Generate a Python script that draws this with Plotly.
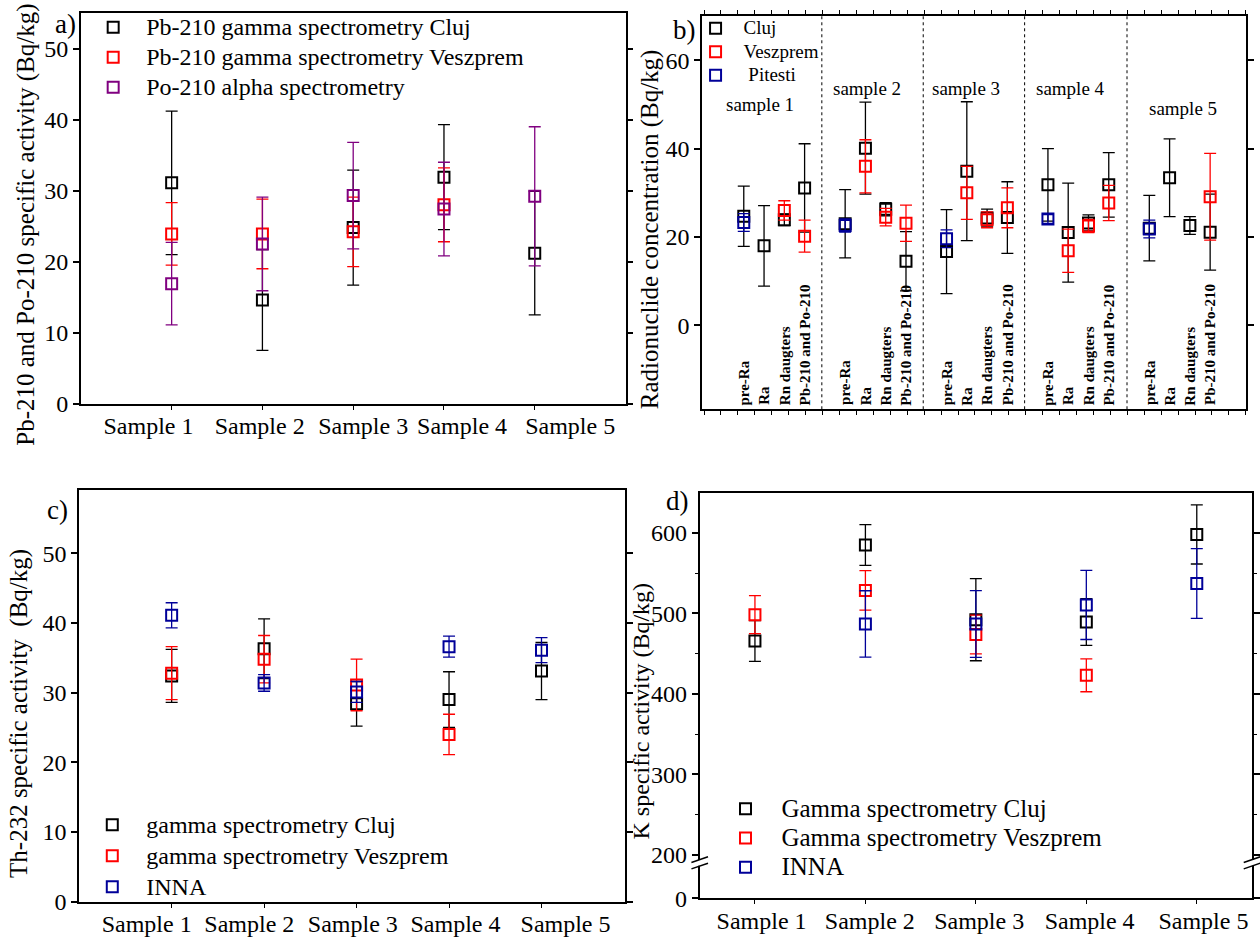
import plotly.graph_objects as go

W, H = 1260, 943
FONT = "Liberation Serif"


def px(x):
    return x / W


def py(y):
    return 1 - y / H


BLACK = "#000000"
RED = "#ff0000"
PURPLE = "#800080"
BLUE = "#000099"

# ---------------- panel a: Pb-210 / Po-210 ----------------
samples = ["Sample 1", "Sample 2", "Sample 3", "Sample 4", "Sample 5"]
sample_pos = [1, 2, 3, 4, 5]
a_label_pos = [0.745, 1.97, 3.11, 4.2, 5.39]

pb_cluj = [31.1, 14.6, 24.8, 31.9, 21.2]
pb_cluj_err = [10.1, 7.1, 8.1, 7.4, 8.7]
pb_vesz = [23.9, 23.9, 24.2, 28.0, None]
pb_vesz_err = [4.4, 4.9, 4.9, 5.2, None]
po_alpha = [16.9, 22.5, 29.3, 27.4, 29.2]
po_alpha_err = [5.8, 6.6, 7.5, 6.6, 9.8]

# ---------------- panel b: radionuclide concentration per step ----------------
steps = ["pre-Ra", "Ra", "Rn daugters", "Pb-210 and Po-210"]
b_categories = steps * 5
b_pos = [1, 2, 3, 4, 6, 7, 8, 9, 11, 12, 13, 14, 16, 17, 18, 19, 21, 22, 23, 24]
b_group_names = ["sample 1", "sample 2", "sample 3", "sample 4", "sample 5"]
b_group_label_x = [1.78, 7.09, 11.97, 17.09, 22.64]
b_group_label_y = [49.9, 53.5, 53.5, 53.5, 49.0]
b_separators = [4.85, 9.85, 14.85, 19.9]

b_cluj = [24.7, 18.0, 23.9, 31.1, 23.0, 40.1, 26.3, 14.5, 16.7, 34.9,
          24.3, 24.4, 31.8, 21.0, 23.2, 31.8, 22.0, 33.4, 22.6, 21.1]
b_cluj_err = [6.8, 9.1, 1.3, 10.0, 7.7, 10.4, 1.5, 6.7, 9.5, 15.7,
              2.0, 8.1, 8.2, 11.2, 1.8, 7.3, 7.4, 8.8, 2.0, 8.6]
b_vesz = [None, None, 26.0, 20.2, None, 36.0, 24.5, 23.1, None, 30.0,
          23.9, 26.6, None, 16.9, 22.5, 27.7, None, None, None, 29.1]
b_vesz_err = [None, None, 2.2, 3.6, None, 6.0, 2.0, 4.1, None, 6.0,
              1.8, 4.5, None, 4.9, 1.5, 4.0, None, None, None, 9.8]
b_pit = [23.3, None, None, None, 22.6, None, None, None, 19.6, None,
         None, None, 24.1, None, None, None, 21.8, None, None, None]
b_pit_err = [2.0, None, None, None, 1.5, None, None, None, 2.0, None,
             None, None, 1.0, None, None, None, 2.0, None, None, None]

# ---------------- panel c: Th-232 ----------------
c_label_pos = [0.73, 1.84, 2.96, 4.07, 5.26]
th_cluj = [32.4, 36.3, 28.4, 29.0, 33.1]
th_cluj_err = [3.8, 4.3, 3.2, 4.0, 4.1]
th_vesz = [32.8, 34.8, 31.1, 24.0, None]
th_vesz_err = [3.8, 3.4, 3.7, 2.9, None]
th_inna = [41.1, 31.4, 30.1, 36.6, 36.1]
th_inna_err = [1.8, 1.2, 1.5, 1.5, 1.8]

# ---------------- panel d: K (broken value axis) ----------------
d_label_pos = [1.06, 2.04, 3.03, 4.03, 5.06]
k_cluj = [465.6, 584.9, 492.1, 489.3, 598.0]
k_cluj_err = [25.4, 25.3, 51.0, 29.0, 36.7]
k_vesz = [498.4, 528.5, 473.7, 423.0, None]
k_vesz_err = [23.6, 24.5, 24.0, 20.4, None]
k_inna = [None, 486.8, 486.8, 510.5, 537.1]
k_inna_err = [None, 41.3, 41.5, 43.0, 43.4]
# the 0-200 stretch is collapsed into the short stub below the break
k_axis_bottom = 146.1
k_tick_vals = [k_axis_bottom, 200, 300, 400, 500, 600]
k_tick_text = ["0", "200", "300", "400", "500", "600"]
k_minor_vals = [250, 350, 450, 550]

fig = go.Figure()


def add_series(x, y, err, color, name, text_size, xa, ya, legend):
    fig.add_trace(go.Scatter(
        x=x, y=y, mode="markers",
        name='<span style="font-size:%dpx">%s</span>' % (text_size, name),
        xaxis=xa, yaxis=ya, legend=legend,
        marker=dict(symbol="square-open", size=11, color=color,
                    line=dict(width=2, color=color)),
        error_y=dict(type="data", array=err, visible=True, color=color,
                     thickness=1.3, width=6),
    ))


add_series(sample_pos, pb_cluj, pb_cluj_err, BLACK, "Pb-210 gamma spectrometry Cluj", 24, "x", "y", "legend")
add_series(sample_pos, pb_vesz, pb_vesz_err, RED, "Pb-210 gamma spectrometry Veszprem", 24, "x", "y", "legend")
add_series(sample_pos, po_alpha, po_alpha_err, PURPLE, "Po-210 alpha spectrometry", 24, "x", "y", "legend")

add_series(b_pos, b_cluj, b_cluj_err, BLACK, "Cluj", 19, "x2", "y2", "legend2")
add_series(b_pos, b_vesz, b_vesz_err, RED, "Veszprem", 19, "x2", "y2", "legend2")
add_series(b_pos, b_pit, b_pit_err, BLUE, "\u00a0Pitesti", 19, "x2", "y2", "legend2")

add_series(sample_pos, th_cluj, th_cluj_err, BLACK, "gamma spectrometry Cluj", 24, "x3", "y3", "legend3")
add_series(sample_pos, th_vesz, th_vesz_err, RED, "gamma spectrometry Veszprem", 24, "x3", "y3", "legend3")
add_series(sample_pos, th_inna, th_inna_err, BLUE, "INNA", 24, "x3", "y3", "legend3")

add_series(sample_pos, k_cluj, k_cluj_err, BLACK, "Gamma spectrometry Cluj", 25, "x4", "y4", "legend4")
add_series(sample_pos, k_vesz, k_vesz_err, RED, "Gamma spectrometry Veszprem", 25, "x4", "y4", "legend4")
add_series(sample_pos, k_inna, k_inna_err, BLUE, "INNA", 25, "x4", "y4", "legend4")

tickfont = dict(family=FONT, size=24, color="black")
LW = 1.8

common_y = dict(showline=True, linecolor="black", linewidth=LW, mirror="ticks",
                ticks="outside", ticklen=6, tickwidth=1.5, tickcolor="black",
                showgrid=False, zeroline=False, tickfont=tickfont)
common_x = dict(showline=True, linecolor="black", linewidth=LW, mirror=True,
                showgrid=False, zeroline=False, tickfont=tickfont, ticks="")


def sample_xaxis(domain, anchor, rng, label_pos):
    d = dict(common_x)
    d.update(domain=domain, anchor=anchor, range=rng,
             tickmode="array", tickvals=label_pos, ticktext=samples,
             minor=dict(tickmode="array", tickvals=sample_pos, ticks="outside",
                        ticklen=4, tickwidth=1.2, tickcolor="black"))
    return d


layout = dict(
    width=W, height=H, margin=dict(l=0, r=0, t=0, b=0),
    paper_bgcolor="white", plot_bgcolor="white",
    font=dict(family=FONT, color="black"),
    showlegend=True,
)

# panel a axes
layout["xaxis"] = sample_xaxis([px(81.2), px(628)], "y", [0, 6], a_label_pos)
ya = dict(common_y)
ya.update(domain=[py(409.3), py(13.3)], anchor="x", range=[0, 55],
          tickvals=[0, 10, 20, 30, 40, 50])
layout["yaxis"] = ya

# panel b axes
xb = dict(common_x)
xb.update(domain=[px(705), px(1251)], anchor="y2", range=[-1.05, 25.77],
          showticklabels=False, ticks="outside", ticklen=4, tickwidth=1,
          tickcolor="black", mirror="ticks", tickmode="linear", tick0=-0.96, dtick=0.835)
layout["xaxis2"] = xb
yb = dict(common_y)
yb.update(domain=[py(415), py(16)], anchor="x2", range=[-18.96, 70.04],
          tickvals=[0, 20, 40, 60])
layout["yaxis2"] = yb

# panel c axes
layout["xaxis3"] = sample_xaxis([px(79.5), px(627.2)], "y3", [0, 5.9], c_label_pos)
yc = dict(common_y)
yc.update(domain=[py(914.3), py(497)], anchor="x3", range=[0, 59.06],
          tickvals=[0, 10, 20, 30, 40, 50])
layout["yaxis3"] = yc

# panel d axes
D_LEFT, D_RIGHT, D_TOP, D_BOTTOM = 702.5, 1257, 500, 910.7
layout["xaxis4"] = sample_xaxis([px(D_LEFT), px(D_RIGHT)], "y4", [0.5, 5.5], d_label_pos)
yd = dict(common_y)
yd.update(domain=[py(D_BOTTOM), py(D_TOP)], anchor="x4", range=[k_axis_bottom, 649.4],
          tickmode="array", tickvals=k_tick_vals, ticktext=k_tick_text,
          minor=dict(tickmode="array", tickvals=k_minor_vals, ticks="outside",
                     ticklen=3, tickwidth=1.2, tickcolor="black"))
layout["yaxis4"] = yd


def legend_at(mx, my, base_size, itemwidth):
    row = 1.3 * base_size + 3
    return dict(x=px(mx - itemwidth / 2 - 5), y=py(my - row / 2 - 6),
                xanchor="left", yanchor="top",
                bgcolor="rgba(0,0,0,0)", borderwidth=0,
                font=dict(family=FONT, size=base_size, color="black"),
                itemwidth=itemwidth, tracegroupgap=0)


layout["legend"] = legend_at(113.5, 28.3, 20.8, 56)
layout["legend2"] = legend_at(718.3, 29.3, 15.8, 46)
layout["legend3"] = legend_at(112.6, 837, 21.5, 58)
layout["legend4"] = legend_at(748.3, 820.7, 20.2, 62)

fig.update_layout(**layout)

annotations = []


def paper_text(x, y, text, size, angle=0):
    annotations.append(dict(
        x=px(x), y=py(y), xref="paper", yref="paper", text=text, showarrow=False,
        textangle=angle, xanchor="center", yanchor="middle",
        font=dict(family=FONT, size=size, color="black")))


# panel letters
paper_text(66, 24, "a)", 27)
paper_text(687, 30, "b)", 27)
paper_text(57.5, 517, "c)", 27)
paper_text(680.7, 508, "d)", 27)

# axis titles
paper_text(26, 228, "Pb-210 and Po-210 specific activity (Bq/kg)", 25, -90)
paper_text(652, 232, "Radionuclide concentration (Bq/kg)", 25, -90)
paper_text(19, 723, "Th-232 specific activity  (Bq/kg)", 25, -90)
paper_text(644, 721, "K specific activity (Bq/kg)", 24, -90)

# panel b: step labels along the bottom and sample names
for xpos, name in zip(b_pos, b_categories):
    annotations.append(dict(
        x=xpos, y=0.005, xref="x2", yref="y2 domain", text="<b>%s</b>" % name,
        showarrow=False, textangle=-90, xanchor="center", yanchor="bottom",
        font=dict(family=FONT, size=15, color="black")))
for xpos, ypos, name in zip(b_group_label_x, b_group_label_y, b_group_names):
    annotations.append(dict(
        x=xpos, y=ypos, xref="x2", yref="y2", text=name, showarrow=False,
        xanchor="center", yanchor="middle",
        font=dict(family=FONT, size=19, color="black")))

shapes = []
for s in b_separators:
    shapes.append(dict(type="line", xref="x2", yref="y2 domain", x0=s, x1=s, y0=0, y1=1,
                       line=dict(color="black", width=1, dash="dot")))

# axis-break marks on both sides of panel d, just below the 200 tick
for side in (0, 1):
    shapes.append(dict(type="rect", xref="x4 domain", yref="y4", x0=side - 0.01, x1=side + 0.01,
                       y0=186.5, y1=193.5, line=dict(width=0), fillcolor="white"))
    for yb_ in (186.0, 194.0):
        shapes.append(dict(type="line", xref="x4 domain", yref="y4",
                           x0=side - 0.015, x1=side + 0.015, y0=yb_ - 3.5, y1=yb_ + 3.5,
                           line=dict(color="black", width=1.5)))

fig.update_layout(annotations=annotations, shapes=shapes)

fig.write_html("out.html")
